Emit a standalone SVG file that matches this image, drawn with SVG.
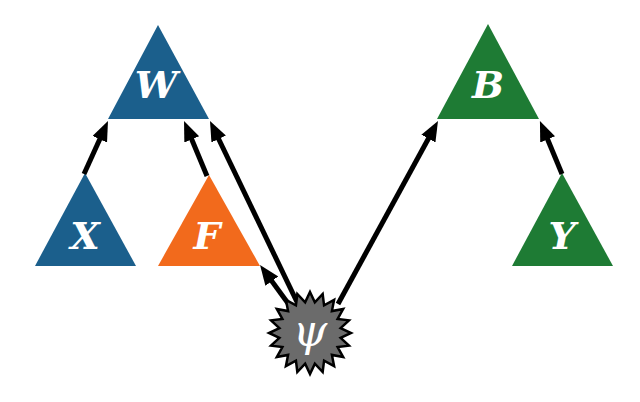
<svg xmlns="http://www.w3.org/2000/svg" width="640" height="402" viewBox="0 0 640 402">
<style>
.lbl{font-family:"DejaVu Serif","Liberation Serif",serif;font-weight:bold;font-style:italic;font-size:38px;fill:#fff;text-anchor:middle}
.psi{font-family:"DejaVu Serif","Liberation Serif",serif;font-style:italic;font-size:44px;fill:#fff;text-anchor:middle}
.blue{fill:#1b5f8c}.orange{fill:#f26a1c}.green{fill:#1e7b34}
.conn line{stroke:#000;stroke-width:5;marker-end:url(#ah)}
</style>
<defs>
<marker id="ah" markerUnits="userSpaceOnUse" markerWidth="22" markerHeight="18" refX="5" refY="8" orient="auto">
<path d="M0,0 L20,8 L0,16 z" fill="#000"/>
</marker>
</defs>
<rect width="640" height="402" fill="#fff"/>
<g id="W"><polygon class="blue" points="158,25 108,119 209,119"/><text class="lbl" x="156" y="98">W</text></g>
<g id="X"><polygon class="blue" points="85,173 35,266 136,266"/><text class="lbl" x="85" y="249">X</text></g>
<g id="F"><polygon class="orange" points="209,175 158,266 260,266"/><text class="lbl" x="207" y="249">F</text></g>
<g id="B"><polygon class="green" points="488,24 437,119 539,119"/><text class="lbl" x="488" y="98">B</text></g>
<g id="Y"><polygon class="green" points="562,173 512,266 613,266"/><text class="lbl" x="562" y="249">Y</text></g>
<g id="connectors" class="conn">
<line x1="84" y1="174" x2="101.8" y2="134.7"/>
<line x1="207" y1="176" x2="189.8" y2="134.8"/>
<line x1="297" y1="302" x2="216.5" y2="134.5"/>
<line x1="290" y1="306" x2="268.9" y2="277.1"/>
<line x1="338" y1="304" x2="430.8" y2="134.2"/>
<line x1="562" y1="174" x2="545.7" y2="134.8"/>
</g>
<g id="psi">
<polygon fill="#6b6b6b" stroke="#000" stroke-width="2.5" stroke-linejoin="miter" points="310,292 314.85,302.38 322.67,294.01 324.07,305.38 334.1,299.83 331.92,311.08 343.17,308.9 337.62,318.93 348.99,320.33 340.62,328.15 351,333 340.62,337.85 348.99,345.67 337.62,347.07 343.17,357.1 331.92,354.92 334.1,366.17 324.07,360.62 322.67,371.99 314.85,363.62 310,374 305.15,363.62 297.33,371.99 295.93,360.62 285.9,366.17 288.08,354.92 276.83,357.1 282.38,347.07 271.01,345.67 279.38,337.85 269,333 279.38,328.15 271.01,320.33 282.38,318.93 276.83,308.9 288.08,311.08 285.9,299.83 295.93,305.38 297.33,294.01 305.15,302.38"/>
<text class="psi" x="310" y="346">ψ</text>
</g>
</svg>
